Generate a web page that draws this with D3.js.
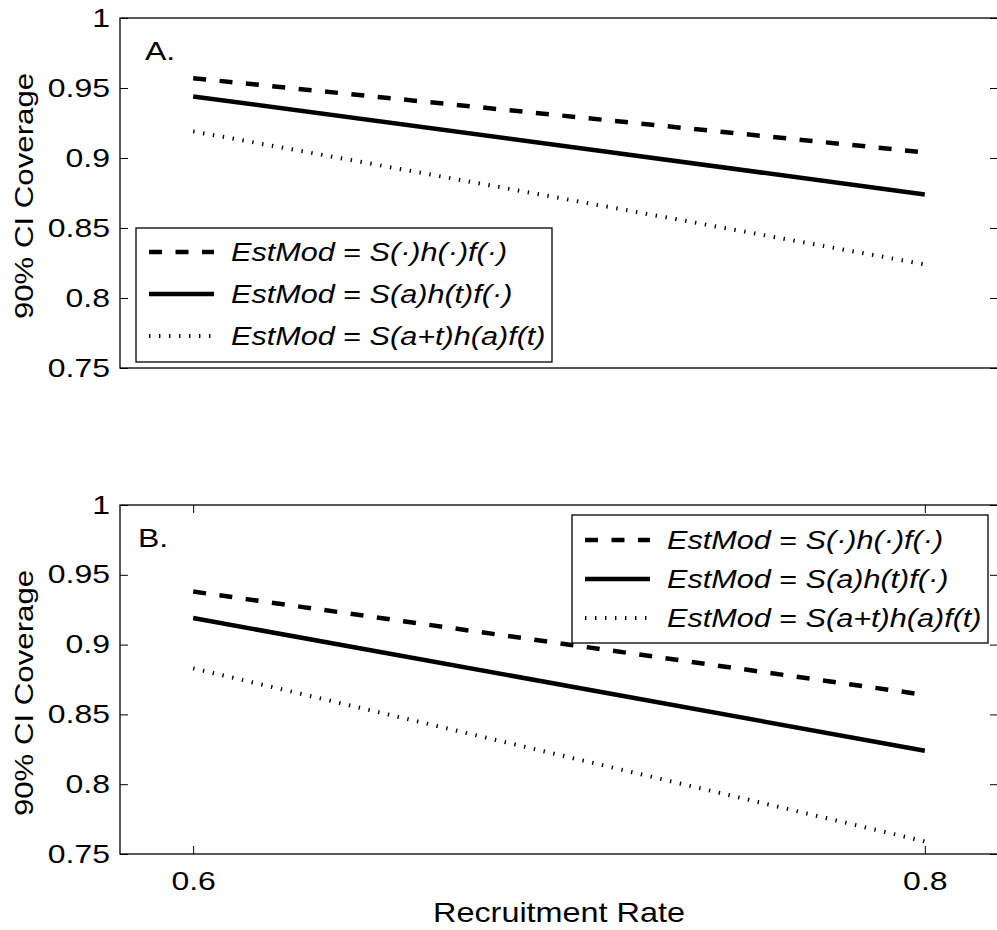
<!DOCTYPE html>
<html>
<head>
<meta charset="utf-8">
<script src="https://cdn.jsdelivr.net/npm/d3@7"></script>
<style>
  body { margin: 0; background: #fff; }
  svg { display: block; font-family: "Liberation Sans", Arial, sans-serif; }
</style>
</head>
<body>
<svg id="chart" width="997" height="930"></svg>
<script>
// data
var recruitRates = [0.6, 0.8];
var xTickLabels = ['0.6', '0.8'];
var yTicks = [0.75, 0.8, 0.85, 0.9, 0.95, 1];
var yTickLabels = ['0.75', '0.8', '0.85', '0.9', '0.95', '1'];
var seriesNames = [
  'S(\u00b7)h(\u00b7)f(\u00b7)',
  'S(a)h(t)f(\u00b7)',
  'S(a+t)h(a)f(t)'
];
var panelA_dashed = [0.957, 0.904];
var panelA_solid = [0.944, 0.874];
var panelA_dotted = [0.919, 0.824];
var panelB_dashed = [0.938, 0.864];
var panelB_solid = [0.919, 0.824];
var panelB_dotted = [0.883, 0.759];

var styles = [
  { dash: '13,13.5', width: 4.5 },
  { dash: null, width: 4.5 },
  { dash: '1.4,8.6', width: 4 }
];

var SX = 1.28; // the figure's font is wider than Arial
var svg = d3.select('#chart');
svg.append('rect').attr('width', 997).attr('height', 930).attr('fill', '#fff');

var x = d3.scaleLinear().domain([0.58, 0.82]).range([120, 998]);

var panels = [
  { tag: 'A.', tagX: 145, tagY: 60, top: 18, bottom: 368, xticks: false, ylabY: 196,
    series: [panelA_dashed, panelA_solid, panelA_dotted],
    legend: { x: 136, y: 228, w: 416, h: 134, rows: [24, 66, 108] } },
  { tag: 'B.', tagX: 138, tagY: 547, top: 505, bottom: 854, xticks: true, ylabY: 693,
    series: [panelB_dashed, panelB_solid, panelB_dotted],
    legend: { x: 572, y: 515, w: 416, h: 128, rows: [25, 64, 103] } }
];

function stretchText(sel, px, py, extra, sx) {
  sel.attr('transform', 'translate(' + px + ',' + py + ')' + (extra || '') + ' scale(' + (sx || SX) + ',1)');
}

panels.forEach(function(p){
  var y = d3.scaleLinear().domain([0.75, 1]).range([p.bottom, p.top]);
  var g = svg.append('g');

  // lines
  var line = d3.line().x(function(d, i){ return x(recruitRates[i]); }).y(function(d){ return y(d); });
  p.series.forEach(function(s, i){
    g.append('path').datum(s)
      .attr('d', line)
      .attr('fill', 'none')
      .attr('stroke', '#000')
      .attr('stroke-width', styles[i].width)
      .attr('stroke-dasharray', styles[i].dash)
      .attr('stroke-linecap', 'butt');
  });

  // box
  g.append('rect')
    .attr('x', x.range()[0]).attr('y', p.top)
    .attr('width', x.range()[1] - x.range()[0]).attr('height', p.bottom - p.top)
    .attr('fill', 'none').attr('stroke', '#000').attr('stroke-width', 1.3);

  // y axes
  var yl = g.append('g').attr('transform', 'translate(' + x.range()[0] + ',0)')
    .call(d3.axisLeft(y).tickValues(yTicks).tickSizeInner(-8).tickSizeOuter(0).tickPadding(10)
      .tickFormat(function(d, i){ return yTickLabels[i]; }));
  var yr = g.append('g').attr('transform', 'translate(' + x.range()[1] + ',0)')
    .call(d3.axisRight(y).tickValues(yTicks).tickSizeInner(-8).tickSizeOuter(0).tickFormat(''));
  [yl, yr].forEach(function(a){ a.select('.domain').remove(); a.selectAll('line').attr('stroke', '#000'); });
  yl.selectAll('text')
    .attr('font-size', 25).attr('font-family', null).attr('fill', '#000')
    .attr('x', -10 / SX).attr('transform', 'scale(' + SX + ',1)');

  if (p.xticks) {
    var xb = g.append('g').attr('transform', 'translate(0,' + p.bottom + ')')
      .call(d3.axisBottom(x).tickValues(recruitRates).tickSizeInner(-8).tickSizeOuter(0).tickPadding(18)
        .tickFormat(function(d, i){ return xTickLabels[i]; }));
    var xt = g.append('g').attr('transform', 'translate(0,' + p.top + ')')
      .call(d3.axisTop(x).tickValues(recruitRates).tickSizeInner(-8).tickSizeOuter(0).tickFormat(''));
    [xb, xt].forEach(function(a){ a.select('.domain').remove(); a.selectAll('line').attr('stroke', '#000'); });
    xb.selectAll('text')
      .attr('font-size', 25).attr('font-family', null).attr('fill', '#000')
      .attr('transform', 'scale(' + SX + ',1)');
  }

  // panel tag
  g.append('text').text(p.tag).attr('font-size', 25).call(stretchText, p.tagX, p.tagY);

  // y label
  g.append('text').text('90% CI Coverage')
    .attr('font-size', 26).attr('text-anchor', 'middle')
    .call(stretchText, 33, p.ylabY, ' rotate(-90)', 1.2);

  // legend
  var L = p.legend;
  var lg = g.append('g').attr('transform', 'translate(' + L.x + ',' + L.y + ')');
  lg.append('rect').attr('width', L.w).attr('height', L.h)
    .attr('fill', '#fff').attr('stroke', '#000').attr('stroke-width', 1.3);
  seriesNames.forEach(function(name, i){
    var ry = L.rows[i];
    lg.append('line').attr('x1', 13).attr('x2', 78).attr('y1', ry).attr('y2', ry)
      .attr('stroke', '#000').attr('stroke-width', styles[i].width)
      .attr('stroke-dasharray', styles[i].dash);
    var t = lg.append('text').attr('font-size', 25.5).call(stretchText, 95, ry + 9, '', 1.2);
    t.append('tspan').attr('font-style', 'italic').text('EstMod');
    t.append('tspan').text(' = ');
    t.append('tspan').attr('font-style', 'italic').text(name);
  });
});

// x label
svg.append('text').text('Recruitment Rate')
  .attr('font-size', 27).attr('text-anchor', 'middle')
  .call(stretchText, 559, 922, '', 1.2);
</script>
</body>
</html>
